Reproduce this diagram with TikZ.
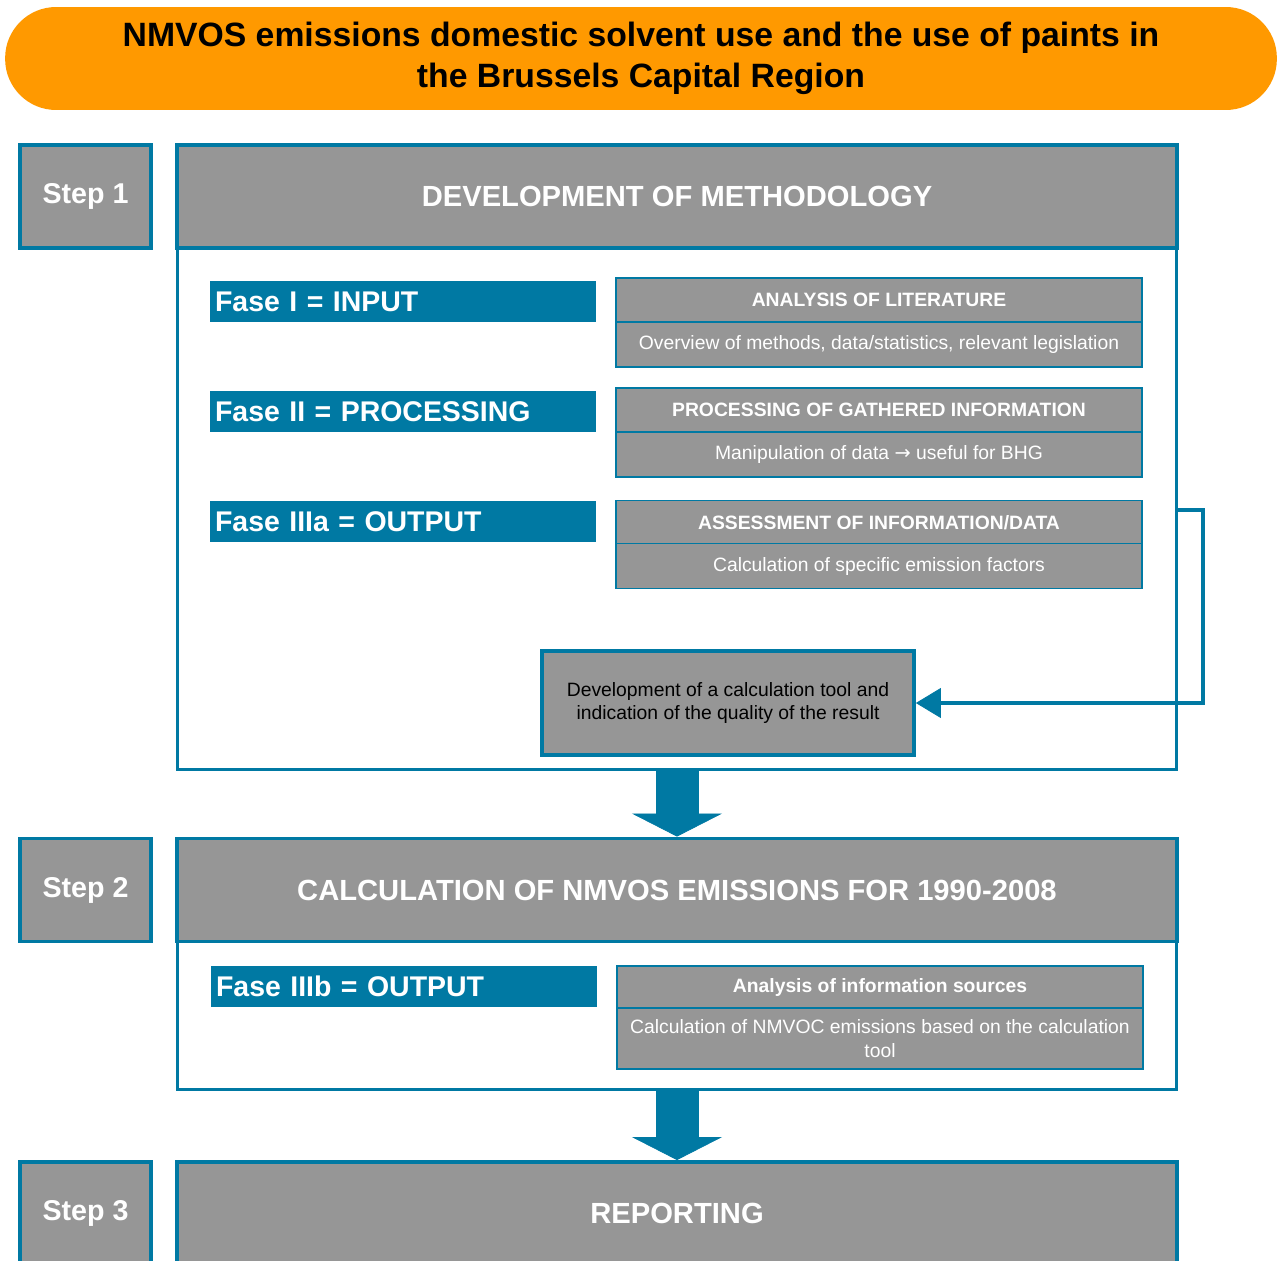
\documentclass[tikz,border=0pt]{standalone}
\usepackage{fontspec}
\setmainfont{Liberation Sans}
\newfontfamily\arrowfont{DejaVu Sans}
\usetikzlibrary{arrows.meta}
\definecolor{bhblue}{RGB}{0,121,163}
\definecolor{bhgray}{RGB}{150,150,150}
\definecolor{bhorange}{RGB}{255,153,0}
\tikzset{
titlebox/.style={fill=bhorange,rounded corners=1.02cm,minimum width=25.44cm,minimum height=2.06cm,inner sep=0pt,align=center,font=\bfseries\fontsize{19.2}{23.3}\selectfont},
stepbox/.style={draw=bhblue,line width=2.2pt,fill=bhgray,minimum width=2.62cm,minimum height=2.06cm,inner sep=0pt,text=white,font=\bfseries\fontsize{16.3}{19}\selectfont},
headbox/.style={draw=bhblue,line width=2.2pt,fill=bhgray,minimum width=20cm,minimum height=2.06cm,inner sep=0pt,text=white,font=\bfseries\fontsize{16.6}{19}\selectfont},
framebox/.style={draw=bhblue,line width=1.7pt,fill=white,minimum width=20cm,inner sep=0pt},
fasebar/.style={fill=bhblue,minimum height=0.82cm,text width=7.52cm,inner xsep=0.1cm,inner ysep=0pt,align=left,text=white,font=\bfseries\fontsize{16.2}{19}\selectfont},
infohead/.style={draw=bhblue,line width=1pt,fill=bhgray,minimum width=10.52cm,minimum height=0.88cm,inner sep=0pt,text=white,font=\bfseries\fontsize{11}{13.7}\selectfont},
infobody/.style={infohead,minimum height=0.9cm,align=center,font=\fontsize{11}{13.7}\selectfont},
toolbox/.style={draw=bhblue,line width=2.2pt,fill=bhgray,minimum width=7.44cm,minimum height=2.08cm,inner sep=0pt,align=center,font=\fontsize{11}{13.2}\selectfont},
bigarrow/.style={draw=bhblue,line width=0.86cm,-{Triangle[length=0.46cm,width=1.8cm,line width=0.4pt]}},
backarrow/.style={draw=bhblue,line width=2.3pt,-{Triangle[length=0.5cm,width=0.6cm,line width=0.4pt]}}
}
\begin{document}
\begin{tikzpicture}[x=0.02cm,y=-0.02cm]
\useasboundingbox (0,0) rectangle (1279,1261);
\node[titlebox] (title) at (641,58.5) {NMVOS emissions domestic solvent use and the use of paints in\\the Brussels Capital Region};
\node[framebox,minimum height=12.5cm] (frame1) at (677,457.5) {};
\node[stepbox] (step1) at (85.5,196.5) {Step 1};
\node[headbox] (head1) at (677,196.5) {DEVELOPMENT OF METHODOLOGY};
\node[fasebar] (fase1) at (403,301.5) {Fase I = INPUT};
\node[fasebar] (fase2) at (403,411.5) {Fase II = PROCESSING};
\node[fasebar] (fase3a) at (403,521.5) {Fase IIIa = OUTPUT};
\node[infohead] (lithead) at (879,300) {ANALYSIS OF LITERATURE};
\node[infobody] (litbody) at (879,344.5) {Overview of methods, data/statistics, relevant legislation};
\node[infohead] (prochead) at (879,410) {PROCESSING OF GATHERED INFORMATION};
\node[infobody] (procbody) at (879,454.5) {Manipulation of data {\arrowfont →} useful for BHG};
\node[infohead] (assesshead) at (879,522.5) {ASSESSMENT OF INFORMATION/DATA};
\node[infobody] (assessbody) at (879,566) {Calculation of specific emission factors};
\node[toolbox] (tool) at (728,703) {Development of a calculation tool and\\indication of the quality of the result};
\coordinate (loopstart) at (1177,510);
\draw[backarrow] (loopstart) -- ++(26,0) |- (tool.east);
\node[framebox,minimum height=5.04cm] (frame2) at (677,964) {};
\node[stepbox] (step2) at (85.5,890) {Step 2};
\node[headbox] (head2) at (677,890) {CALCULATION OF NMVOS EMISSIONS FOR 1990-2008};
\node[fasebar] (fase3b) at (404,986.5) {Fase IIIb = OUTPUT};
\node[infohead,minimum height=0.84cm] (calchead) at (880,987) {Analysis of information sources};
\node[infobody,minimum height=1.22cm] (calcbody) at (880,1038.5) {Calculation of NMVOC emissions based on the calculation\\tool};
\node[stepbox] (step3) at (85.5,1213.5) {Step 3};
\node[headbox] (head3) at (677,1213.5) {REPORTING};
\draw[bigarrow] (frame1.south) -- (head2.north);
\draw[bigarrow] (frame2.south) -- (head3.north);
\end{tikzpicture}
\end{document}
